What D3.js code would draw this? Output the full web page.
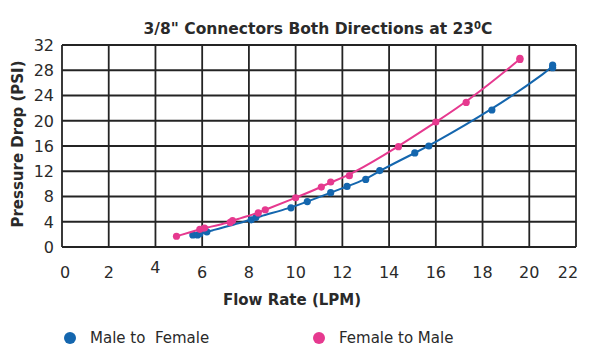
<!DOCTYPE html>
<html>
<head>
<meta charset="utf-8">
<script src="https://cdn.jsdelivr.net/npm/d3@7"></script>
<style>
  body { margin: 0; background: #fff; }
  text { font-family: "DejaVu Sans", Verdana, sans-serif; fill: #2a2a2a; }
</style>
</head>
<body>
<svg id="chart" width="600" height="353"></svg>
<script>
// flow rate (LPM) and pressure drop (PSI)
const maleToFemale = [
  [5.6, 1.9], [5.8, 1.9], [5.9, 2.1], [6.2, 2.4], [8.1, 4.3], [8.3, 4.7],
  [9.8, 6.2], [10.5, 7.2], [11.5, 8.6], [12.2, 9.6], [13.0, 10.7], [13.6, 12.1],
  [15.1, 14.9], [15.7, 16.0], [18.4, 21.7], [21.0, 28.4], [21.0, 28.8]
];
const femaleToMale = [
  [4.9, 1.7], [5.9, 2.8], [6.1, 3.0], [7.2, 3.9], [7.3, 4.2], [8.4, 5.4],
  [8.7, 5.9], [10.0, 7.8], [11.1, 9.5], [11.5, 10.3], [12.3, 11.3], [14.4, 15.9],
  [16.0, 19.8], [17.3, 22.9], [19.6, 29.7], [19.6, 29.9]
];
const xTicks = [0, 2, 4, 6, 8, 10, 12, 14, 16, 18, 20, 22];
const yTicks = [0, 4, 8, 12, 16, 20, 24, 28, 32];
const seriesNames = ["Male to  Female", "Female to Male"];
const seriesColors = ["#1466ae", "#e6398f"];

const svg = d3.select("#chart");
const plotLeft = 62, plotRight = 576, plotTop = 45, plotBottom = 247;

const x = d3.scaleLinear().domain([0, 22]).range([plotLeft, plotRight]);
const y = d3.scaleLinear().domain([0, 32]).range([plotBottom, plotTop]);

// grid
svg.append("g")
  .selectAll("line")
  .data(xTicks)
  .join("line")
  .attr("x1", d => x(d)).attr("x2", d => x(d))
  .attr("y1", plotTop).attr("y2", plotBottom)
  .attr("stroke", "#242424").attr("stroke-width", 1.8);

svg.append("g")
  .selectAll("line")
  .data(yTicks)
  .join("line")
  .attr("x1", plotLeft).attr("x2", plotRight)
  .attr("y1", d => y(d)).attr("y2", d => y(d))
  .attr("stroke", "#242424").attr("stroke-width", 1.8);

// tick labels
svg.append("g")
  .selectAll("text")
  .data(yTicks)
  .join("text")
  .attr("x", plotLeft - 8)
  .attr("y", d => y(d))
  .attr("dy", "0.36em")
  .attr("text-anchor", "end")
  .attr("font-size", 16)
  .text(d => d);

svg.append("g")
  .selectAll("text")
  .data(xTicks)
  .join("text")
  .attr("x", d => x(d) + (d === 22 ? -8 : d === 0 ? 3 : 0))
  .attr("y", d => d === 4 ? 273 : 278)
  .attr("text-anchor", "middle")
  .attr("font-size", 16)
  .text(d => d);

// axis titles
svg.append("text")
  .attr("x", 292).attr("y", 305)
  .attr("text-anchor", "middle")
  .attr("font-size", 15).attr("font-weight", "bold")
  .text("Flow Rate (LPM)");

svg.append("text")
  .attr("transform", "translate(23,144) rotate(-90)")
  .attr("text-anchor", "middle")
  .attr("font-size", 15).attr("font-weight", "bold")
  .text("Pressure Drop (PSI)");

// title
const title = svg.append("text")
  .attr("x", 318).attr("y", 34)
  .attr("text-anchor", "middle")
  .attr("font-size", 15.5).attr("font-weight", "bold");
title.append("tspan").text("3/8\" Connectors Both Directions at 23");
title.append("tspan").attr("font-size", 10).attr("dy", -5).text("0");
title.append("tspan").attr("dy", 5).text("C");

// curves and points
const line = d3.line()
  .x(d => x(d[0]))
  .y(d => y(d[1]))
  .curve(d3.curveBasis);

[maleToFemale, femaleToMale].forEach((data, i) => {
  svg.append("path")
    .attr("d", line(data))
    .attr("fill", "none")
    .attr("stroke", seriesColors[i])
    .attr("stroke-width", 2);
  svg.append("g")
    .selectAll("circle")
    .data(data)
    .join("circle")
    .attr("cx", d => x(d[0]))
    .attr("cy", d => y(d[1]))
    .attr("r", 3.6)
    .attr("fill", seriesColors[i]);
});

// legend
const legendX = [70, 319];
seriesNames.forEach((name, i) => {
  svg.append("circle")
    .attr("cx", legendX[i]).attr("cy", 338)
    .attr("r", 6)
    .attr("fill", seriesColors[i]);
  svg.append("text")
    .attr("x", legendX[i] + 20).attr("y", 338)
    .attr("dy", "0.36em")
    .attr("font-size", 15)
    .style("white-space", "pre")
    .text(name);
});
</script>
</body>
</html>
